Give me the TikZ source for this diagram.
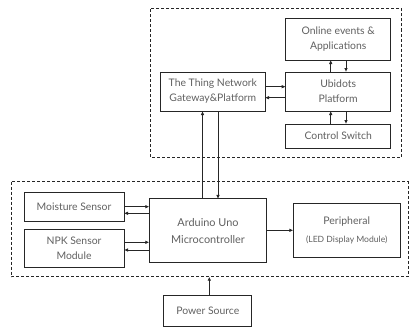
\documentclass[tikz,border=0pt]{standalone}
\usepackage{fontspec}
\setmainfont{Lato}
\usetikzlibrary{arrows.meta}
\definecolor{txt}{HTML}{606060}
\definecolor{ln}{HTML}{262626}
\tikzset{
  box/.style={draw=ln, line width=1pt, rectangle, inner sep=0pt, outer sep=0pt, align=center, text=txt, font=\fontsize{10.4}{15}\selectfont},
  arr/.style={draw=ln, line width=0.8pt, -{Latex[length=4pt,width=3.6pt]}},
  region/.style={draw=ln, line width=1pt, dash pattern=on 3pt off 2pt}
}
\begin{document}
\begin{tikzpicture}[x=1pt,y=-1pt]
\useasboundingbox (0,0) rectangle (409,329);
% dashed regions
\draw[region] (150,9) rectangle (401.5,157);
\draw[region] (11,181.7) rectangle (408,276.7);
% nodes
\node[box, minimum width=105pt, minimum height=41pt] (online) at (338.2,39.5) {Online events \&\\Applications};
\node[box, minimum width=105pt, minimum height=39pt] (ubi) at (338.2,91.5) {Ubidots\\Platform};
\node[box, minimum width=105pt, minimum height=24pt] (ctrl) at (338.2,136) {Control Switch};
\node[box, minimum width=104.3pt, minimum height=39pt] (ttn) at (212.85,91.5) {The Thing Network\\Gateway\&Platform};
\node[box, minimum width=100pt, minimum height=28.7pt] (moist) at (74,206.7) {Moisture Sensor};
\node[box, minimum width=100pt, minimum height=38.3pt] (npk) at (74,248.2) {NPK Sensor\\Module};
\node[box, minimum width=117.4pt, minimum height=63.7pt, font=\fontsize{10.9}{16.5}\selectfont] (ard) at (208,230.8) {Arduino Uno\\Microcontroller};
\node[box, minimum width=106.7pt, minimum height=54pt, font=\fontsize{10.5}{18}\selectfont] (per) at (346.7,230.3) {Peripheral\\{\fontsize{8.6}{9}\selectfont (LED Display Module)}};
\node[box, minimum width=87.7pt, minimum height=31pt] (pow) at (207.8,310.5) {Power Source};
% helper coordinates
\coordinate (v1) at (202.5,0);
\coordinate (v2) at (218,0);
\coordinate (pb) at (209.3,276.7);
% connectors
\draw[arr] ([xshift=-7.5pt]ubi.north) -- ([xshift=-7.5pt]online.south);
\draw[arr] ([xshift=7.8pt]online.south) -- ([xshift=7.8pt]ubi.north);
\draw[arr] ([xshift=-7.5pt]ctrl.north) -- ([xshift=-7.5pt]ubi.south);
\draw[arr] ([xshift=7.8pt]ubi.south) -- ([xshift=7.8pt]ctrl.north);
\draw[arr] ([yshift=4.8pt]ttn.east) -- ([yshift=4.8pt]ubi.west);
\draw[arr] ([yshift=-6.2pt]ubi.west) -- ([yshift=-6.2pt]ttn.east);
\draw[arr] (ard.north -| v1) -- (ttn.south -| v1);
\draw[arr] (ttn.south -| v2) -- (ard.north -| v2);
\draw[arr] (moist.east) -- (ard.west |- moist.east);
\draw[arr] ([yshift=-6.6pt]ard.west |- moist.east) -- ([yshift=-6.6pt]moist.east);
\draw[arr] ([yshift=5.9pt]npk.east) -- ([yshift=5.9pt]ard.west |- npk.east);
\draw[arr] ([yshift=-1.8pt]ard.west |- npk.east) -- ([yshift=-1.8pt]npk.east);
\draw[arr] (ard.east |- per.west) -- (per.west);
\draw[arr] (pow.north -| pb) -- (pb);
\end{tikzpicture}
\end{document}
